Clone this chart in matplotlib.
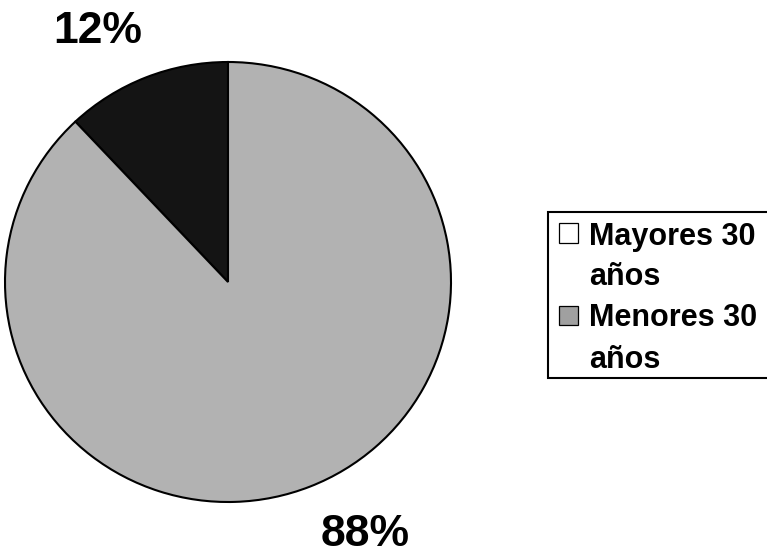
import matplotlib.pyplot as plt
from matplotlib.patches import Rectangle

# data
valores = [12, 88]
colores = ['#141414', '#b2b2b2']
etiquetas = ['12%', '88%']
leyenda = ['Mayores 30\naños', 'Menores 30\naños']
colores_leyenda = ['white', '#a0a0a0']

plt.rcParams['font.family'] = ['Liberation Sans', 'DejaVu Sans']

W, H = 767, 554
fig = plt.figure(figsize=(W / 100, H / 100), dpi=100)
# pie box: x 5-451 px, y 62-502 px
ax = fig.add_axes([5 / W, 1 - 502 / H, 446 / W, 440 / H])
ax.pie(valores, colors=colores, startangle=90, counterclock=True,
       wedgeprops={'edgecolor': 'black', 'linewidth': 1.5})
ax.set_aspect('auto')
ax.set_xlim(-1, 1)
ax.set_ylim(-1, 1)
ax.axis('off')

ax.text(-0.585, 1.14, etiquetas[0], ha='center', va='center',
        fontsize=32, fontweight='bold')
ax.text(0.615, -1.15, etiquetas[1], ha='center', va='center',
        fontsize=32, fontweight='bold')

# legend drawn by hand, box runs off the right edge like the original
def fx(px):
    return px / W

def fy(py):
    return 1 - py / H

fig.patches.append(Rectangle((fx(548), fy(378)), fx(300), (378 - 212) / H,
                             transform=fig.transFigure, facecolor='white',
                             edgecolor='black', linewidth=1.5))
y = 233
for lab, col in zip(leyenda, colores_leyenda):
    fig.patches.append(Rectangle((fx(559), fy(y + 9.5)), fx(19), 19 / H,
                                 transform=fig.transFigure, facecolor=col,
                                 edgecolor='black', linewidth=0.9))
    for linea in lab.split('\n'):
        fig.text(fx(589), fy(y), linea, ha='left', va='center_baseline',
                 fontsize=22, fontweight='bold')
        y += 41

fig.savefig('out.png', dpi=100)
